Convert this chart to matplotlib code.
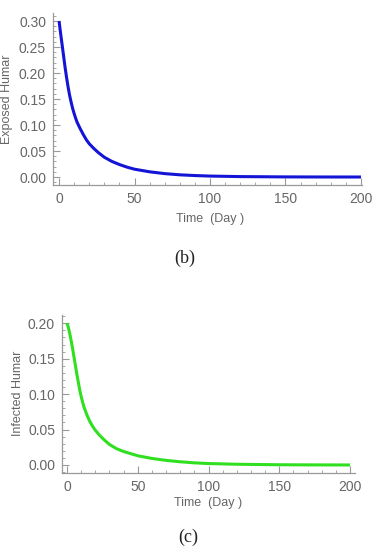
import matplotlib
matplotlib.use('Agg')
import matplotlib.pyplot as plt
from matplotlib.ticker import MultipleLocator

# values
t_exposed = [0, 1, 2, 3, 4, 5, 6, 7, 8, 9, 10, 11, 12, 14, 16, 18, 20, 23, 26,
             30, 35, 40, 45, 50, 60, 70, 80, 90, 100, 120, 150, 175, 200]
exposed = [0.300, 0.277, 0.255, 0.233, 0.211, 0.191, 0.173, 0.157, 0.144, 0.132,
           0.122, 0.113, 0.105, 0.093, 0.082, 0.072, 0.064, 0.055, 0.047,
           0.038, 0.030, 0.024, 0.019, 0.015, 0.0100, 0.0065, 0.0042, 0.0028,
           0.0018, 0.0008, 0.0002, 0.00005, 0.0]

t_infected = [0, 1, 2, 3, 4, 5, 6, 7, 8, 9, 10, 11, 12, 14, 16, 18, 20, 23, 26,
              30, 35, 40, 45, 50, 60, 70, 80, 90, 100, 120, 150, 175, 200]
infected = [0.200, 0.194, 0.185, 0.175, 0.164, 0.152, 0.140, 0.128, 0.117, 0.106,
            0.097, 0.089, 0.082, 0.071, 0.062, 0.055, 0.049, 0.042, 0.036,
            0.029, 0.023, 0.019, 0.016, 0.013, 0.0092, 0.0065, 0.0045, 0.0030,
            0.0020, 0.0010, 0.0003, 0.0001, 0.0]

x_ticks = [0, 50, 100, 150, 200]
y_ticks_b = [0.00, 0.05, 0.10, 0.15, 0.20, 0.25, 0.30]
y_ticks_c = [0.00, 0.05, 0.10, 0.15, 0.20]

TXT = '#666666'
AX = '#999999'
plt.rcParams['font.family'] = ['Liberation Sans', 'DejaVu Sans']

fig = plt.figure(figsize=(3.83, 5.49), dpi=100)


def style(ax, yticks, ylabel, xlab_pos, ylab_pos):
    for s in ['top', 'right']:
        ax.spines[s].set_visible(False)
    for s in ['left', 'bottom']:
        ax.spines[s].set_color(AX)
        ax.spines[s].set_linewidth(0.9)
    ax.set_xticks(x_ticks)
    ax.set_yticks(yticks)
    ax.set_yticklabels(['%.2f' % v for v in yticks])
    ax.xaxis.set_minor_locator(MultipleLocator(10))
    ax.yaxis.set_minor_locator(MultipleLocator(0.01))
    ax.tick_params(which='major', direction='in', length=5, width=0.8,
                   color=AX, labelcolor=TXT, labelsize=10, pad=5)
    ax.tick_params(which='minor', direction='in', length=2.5, width=0.6, color=AX)
    ax.set_xlabel('Time  (Day )', color=TXT, fontsize=9, va='center')
    ax.xaxis.set_label_coords(*xlab_pos)
    ax.set_ylabel(ylabel, color=TXT, fontsize=9, va='center')
    ax.yaxis.set_label_coords(*ylab_pos)


ax1 = fig.add_axes([0.1384, 0.663, 0.8068, 0.3133])
ax1.plot(t_exposed, exposed, color='#1414d6', lw=2.2, solid_capstyle='butt')
ax1.set_xlim(-4, 200.7)
ax1.set_ylim(-0.0154, 0.3154)
style(ax1, y_ticks_b, 'Exposed Humar', (0.508, -0.198), (-0.149, 0.5))

ax2 = fig.add_axes([0.1619, 0.139, 0.765, 0.2873])
ax2.plot(t_infected, infected, color='#30e020', lw=2.2, solid_capstyle='butt')
ax2.set_xlim(-3.5, 203.5)
ax2.set_ylim(-0.0109, 0.2117)
style(ax2, y_ticks_c, 'Infected Humar', (0.498, -0.192), (-0.151, 0.505))

fig.text(185 / 383, 1 - 258 / 549, '(b)', ha='center', va='center',
         family='Liberation Serif', fontsize=13, color='#222222')
fig.text(188 / 383, 1 - 537 / 549, '(c)', ha='center', va='center',
         family='Liberation Serif', fontsize=13, color='#222222')

fig.savefig('out.png', dpi=100)
